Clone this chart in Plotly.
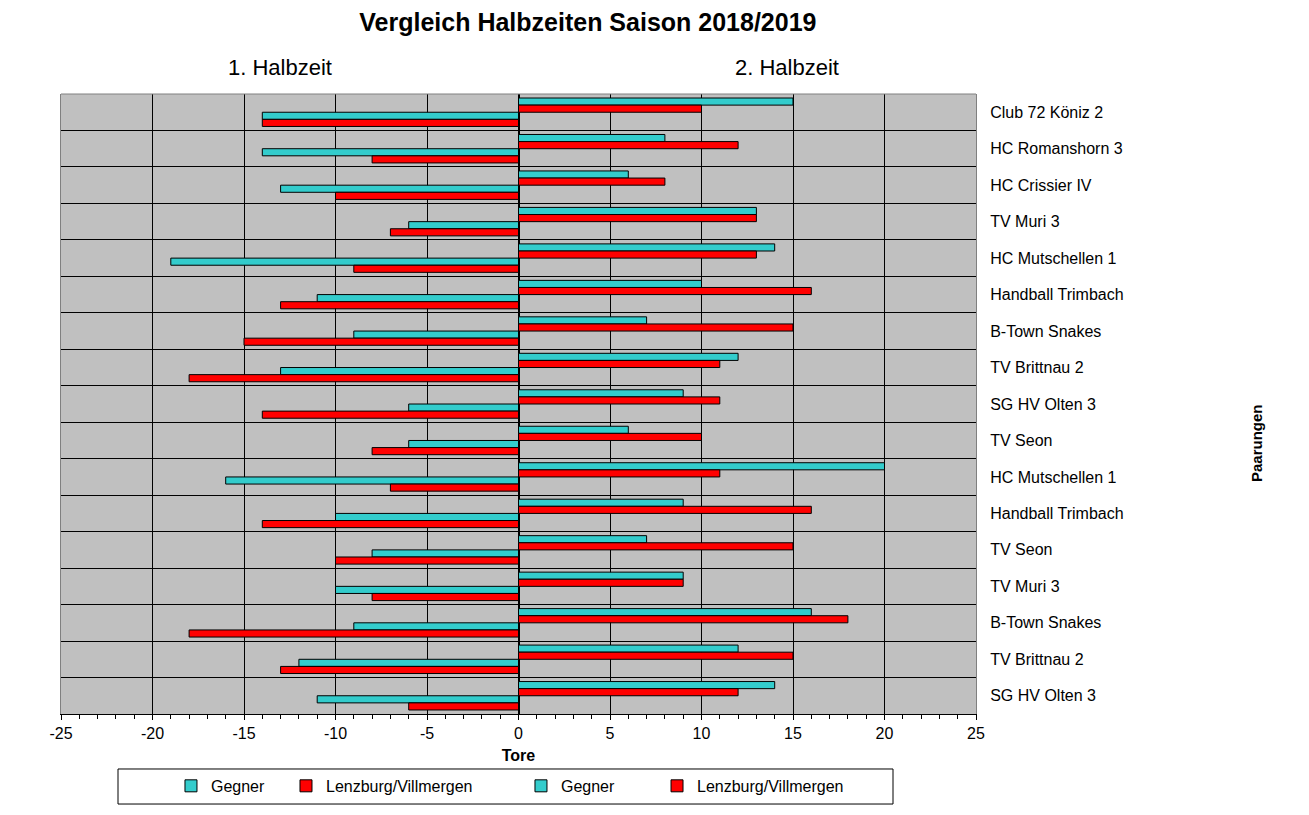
import plotly.graph_objects as go

# Paarungen (top to bottom as in the chart)
teams = ['Club 72 Köniz 2', 'HC Romanshorn 3', 'HC Crissier IV', 'TV Muri 3',
         'HC Mutschellen 1', 'Handball Trimbach', 'B-Town Snakes', 'TV Brittnau 2',
         'SG HV Olten 3', 'TV Seon', 'HC Mutschellen 1', 'Handball Trimbach',
         'TV Seon', 'TV Muri 3', 'B-Town Snakes', 'TV Brittnau 2', 'SG HV Olten 3']

# 1. Halbzeit (shown to the left, negative)
h1_gegner = [-14, -14, -13, -6, -19, -11, -9, -13, -6, -6, -16, -10, -8, -10, -9, -12, -11]
h1_lenzburg = [-14, -8, -10, -7, -9, -13, -15, -18, -14, -8, -7, -14, -10, -8, -18, -13, -6]

# 2. Halbzeit (shown to the right)
h2_gegner = [15, 8, 6, 13, 14, 10, 7, 12, 9, 6, 20, 9, 7, 9, 16, 12, 14]
h2_lenzburg = [10, 12, 8, 13, 13, 16, 15, 11, 11, 10, 11, 16, 15, 9, 18, 15, 12]

# x axis ticks (plain hyphen like the original)
x_ticks = [-25, -20, -15, -10, -5, 0, 5, 10, 15, 20, 25]
x_ticklabels = ['-25', '-20', '-15', '-10', '-5', '0', '5', '10', '15', '20', '25']

rows = list(range(len(teams)))
cyan = '#33CCCC'
red = '#FF0000'
font = 'Liberation Sans, Arial, sans-serif'


def bar(values, name, color, legend):
    return go.Bar(y=rows, x=values, orientation='h', name=name, legend=legend,
                  marker=dict(color=color, line=dict(color='black', width=1)))


fig = go.Figure()
fig.add_trace(bar(h2_gegner, 'Gegner', cyan, 'legend3'))
fig.add_trace(bar(h2_lenzburg, 'Lenzburg/Villmergen', red, 'legend4'))
fig.add_trace(bar(h1_gegner, 'Gegner', cyan, 'legend'))
fig.add_trace(bar(h1_lenzburg, 'Lenzburg/Villmergen', red, 'legend2'))

# one legend per entry so the spacing matches the original box
leg = dict(orientation='h', y=-0.116, xanchor='left', yanchor='middle',
           bgcolor='rgba(0,0,0,0)', font=dict(size=16))

fig.update_layout(
    width=1309, height=815,
    margin=dict(l=53, r=341, t=86, b=109),
    paper_bgcolor='white', plot_bgcolor='#C0C0C0',
    font=dict(family=font, size=16, color='black'),
    barmode='group', bargap=0.22, bargroupgap=0,
    title=dict(text='<b>Vergleich Halbzeiten Saison 2018/2019</b>', x=0.443, xanchor='center',
               y=0.982, yanchor='middle', font=dict(size=25, family=font)),
    xaxis=dict(range=[-25, 25], tickmode='array', tickvals=x_ticks, ticktext=x_ticklabels,
               showgrid=True, gridcolor='black', gridwidth=1,
               zeroline=True, zerolinecolor='black', zerolinewidth=2,
               showline=True, linecolor='black', linewidth=1,
               ticks='outside', ticklen=5, tickcolor='black',
               minor=dict(dtick=1, ticks='outside', ticklen=4, tickcolor='black', showgrid=False),
               title=dict(text='<b>Tore</b>', standoff=8, font=dict(size=16)),
               tickfont=dict(size=16)),
    yaxis=dict(range=[16.5, -0.5], side='right', tickmode='array', tickvals=rows,
               ticktext=teams, ticks='', showgrid=False, zeroline=False,
               showline=True, linecolor='#808080', mirror=True,
               ticklabelstandoff=10,
               minor=dict(tickmode='array', tickvals=[r + 0.5 for r in rows[:-1]],
                          showgrid=True, gridcolor='black', gridwidth=1, ticks=''),
               tickfont=dict(size=16)),
    legend=dict(leg, x=0.1202),
    legend2=dict(leg, x=0.2459),
    legend3=dict(leg, x=0.5027),
    legend4=dict(leg, x=0.6514),
    showlegend=True,
)

# legend frame and top border of the plot area
fig.add_shape(type='rect', xref='paper', yref='paper', x0=0.0623, x1=0.9093,
              y0=-0.1452, y1=-0.0887, line=dict(color='black', width=1))
fig.add_shape(type='line', xref='paper', yref='paper', x0=0, x1=1, y0=1, y1=1,
              line=dict(color='#808080', width=1))

fig.add_annotation(text='1. Halbzeit', x=0.239, y=1.0435, xref='paper', yref='paper',
                   xanchor='center', yanchor='middle', showarrow=False, font=dict(size=22))
fig.add_annotation(text='2. Halbzeit', x=0.793, y=1.0435, xref='paper', yref='paper',
                   xanchor='center', yanchor='middle', showarrow=False, font=dict(size=22))
fig.add_annotation(text='<b>Paarungen</b>', x=1.306, y=0.437, xref='paper', yref='paper',
                   xanchor='center', yanchor='middle', showarrow=False, textangle=-90,
                   font=dict(size=15))

fig.write_html('out.html')
